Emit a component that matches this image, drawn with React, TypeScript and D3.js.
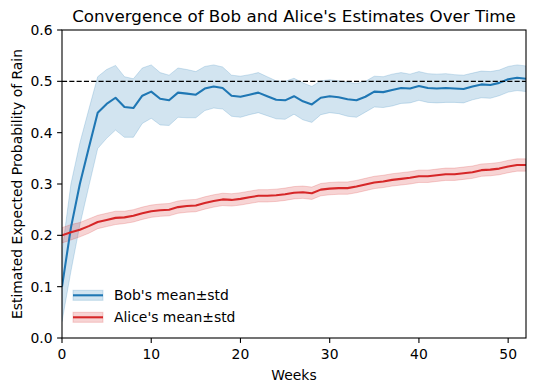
import React from "react";
import * as d3 from "d3";

const weeks = d3.range(0, 53);

const bobMean = [
  0.100, 0.215, 0.300, 0.370, 0.439, 0.456, 0.468, 0.450, 0.448, 0.472,
  0.480, 0.466, 0.463, 0.478, 0.476, 0.474, 0.486, 0.490, 0.487, 0.472,
  0.470, 0.474, 0.478, 0.471, 0.464, 0.463, 0.471, 0.461, 0.455, 0.468,
  0.471, 0.469, 0.465, 0.463, 0.470, 0.480, 0.479, 0.483, 0.487, 0.486,
  0.491, 0.487, 0.486, 0.487, 0.486, 0.485, 0.490, 0.494, 0.493, 0.497,
  0.504, 0.507, 0.505,
];

const bobStd = [
  0.068, 0.085, 0.080, 0.075, 0.070, 0.067, 0.063, 0.059, 0.057, 0.054,
  0.052, 0.051, 0.049, 0.048, 0.047, 0.045, 0.043, 0.042, 0.041, 0.040,
  0.040, 0.039, 0.039, 0.038, 0.037, 0.037, 0.035, 0.036, 0.035, 0.033,
  0.032, 0.032, 0.033, 0.033, 0.030, 0.030, 0.030, 0.031, 0.030, 0.028,
  0.028, 0.028, 0.028, 0.028, 0.027, 0.027, 0.026, 0.026, 0.026, 0.025,
  0.025, 0.025, 0.025,
];

const aliceMean = [
  0.200, 0.206, 0.211, 0.218, 0.226, 0.230, 0.234, 0.235, 0.238, 0.243,
  0.247, 0.249, 0.250, 0.255, 0.257, 0.258, 0.263, 0.267, 0.270, 0.269,
  0.271, 0.274, 0.277, 0.277, 0.278, 0.280, 0.283, 0.284, 0.282, 0.289,
  0.291, 0.292, 0.292, 0.295, 0.299, 0.303, 0.305, 0.308, 0.310, 0.312,
  0.315, 0.315, 0.317, 0.319, 0.319, 0.321, 0.323, 0.327, 0.328, 0.330,
  0.334, 0.337, 0.337,
];

const aliceStd = [
  0.015, 0.015, 0.014, 0.014, 0.013, 0.013, 0.013, 0.012, 0.012, 0.012,
  0.012, 0.012, 0.012, 0.012, 0.012, 0.012, 0.012, 0.012, 0.012, 0.012,
  0.012, 0.012, 0.012, 0.012, 0.012, 0.012, 0.012, 0.012, 0.012, 0.012,
  0.012, 0.012, 0.012, 0.012, 0.012, 0.012, 0.012, 0.012, 0.012, 0.012,
  0.012, 0.012, 0.012, 0.012, 0.012, 0.012, 0.012, 0.012, 0.012, 0.012,
  0.012, 0.012, 0.012,
];

const xTicks = [0, 10, 20, 30, 40, 50];
const yTicks = [0.0, 0.1, 0.2, 0.3, 0.4, 0.5, 0.6];
const targetValue = 0.5;

const series = [
  { name: "Bob's mean±std", mean: bobMean, std: bobStd, color: "#1f77b4" },
  { name: "Alice's mean±std", mean: aliceMean, std: aliceStd, color: "#d62728" },
];

const W = 536;
const H = 391;
const M = { left: 62, right: 10, top: 30, bottom: 53 };
const FONT = "DejaVu Sans, sans-serif";
const FS = 13.9;

export default function App() {
  const x = d3.scaleLinear().domain([0, 52]).range([M.left, W - M.right]);
  const y = d3.scaleLinear().domain([0, 0.6]).range([H - M.bottom, M.top]);
  const x0 = M.left, x1 = W - M.right, y0 = H - M.bottom, y1 = M.top;

  const line = d3
    .line<number>()
    .x((_, i) => x(weeks[i]))
    .y((d) => y(d));

  const makeArea = (mean: number[], std: number[]) =>
    d3
      .area<number>()
      .x((_, i) => x(weeks[i]))
      .y0((d, i) => y(d - std[i]))
      .y1((d, i) => y(d + std[i]))(mean) as string;

  return (
    <svg
      width={W}
      height={H}
      style={{ position: "absolute", left: 0, top: 0, background: "#fff" }}
      fontFamily={FONT}
    >
      <defs>
        <clipPath id="plotclip">
          <rect x={x0} y={y1} width={x1 - x0} height={y0 - y1} />
        </clipPath>
      </defs>
      <rect x={0} y={0} width={W} height={H} fill="#fff" />
      <g clipPath="url(#plotclip)">
        {series.map((s) => (
          <path key={s.name + "a"} d={makeArea(s.mean, s.std)} fill={s.color} fillOpacity={0.2} stroke={s.color} strokeOpacity={0.2} strokeWidth={1} />
        ))}
        {series.map((s) => (
          <path key={s.name + "l"} d={line(s.mean) as string} fill="none" stroke={s.color} strokeWidth={2.08} strokeLinejoin="round" />
        ))}
        <line x1={x0} x2={x1} y1={y(targetValue)} y2={y(targetValue)} stroke="#000" strokeWidth={1.39} strokeDasharray="5.1,2.2" />
      </g>
      <rect x={x0} y={y1} width={x1 - x0} height={y0 - y1} fill="none" stroke="#000" strokeWidth={1.1} />
      {xTicks.map((t) => (
        <g key={"x" + t}>
          <line x1={x(t)} x2={x(t)} y1={y0} y2={y0 + 4.9} stroke="#000" strokeWidth={1.1} />
          <text x={x(t)} y={y0 + 21} fontSize={FS} textAnchor="middle" fill="#000">{t}</text>
        </g>
      ))}
      {yTicks.map((t) => (
        <g key={"y" + t}>
          <line x1={x0 - 4.9} x2={x0} y1={y(t)} y2={y(t)} stroke="#000" strokeWidth={1.1} />
          <text x={x0 - 9.5} y={y(t) + 5} fontSize={FS} textAnchor="end" fill="#000">{t.toFixed(1)}</text>
        </g>
      ))}
      <text x={(x0 + x1) / 2} y={380} fontSize={FS} textAnchor="middle" fill="#000">Weeks</text>
      <text transform={`translate(22,${(y0 + y1) / 2}) rotate(-90)`} fontSize={FS} textAnchor="middle" fill="#000">
        Estimated Expected Probability of Rain
      </text>
      <text x={(x0 + x1) / 2} y={21.7} fontSize={16.7} textAnchor="middle" fill="#000">
        Convergence of Bob and Alice's Estimates Over Time
      </text>
      {series.map((s, i) => {
        const cy = 295.3 + i * 22;
        return (
          <g key={"lg" + i}>
            <rect x={73} y={cy - 5} width={30} height={10} fill={s.color} fillOpacity={0.2} stroke={s.color} strokeOpacity={0.2} />
            <line x1={73} x2={103} y1={cy} y2={cy} stroke={s.color} strokeWidth={2.08} />
            <text x={114} y={cy + 5} fontSize={FS} fill="#000">{s.name}</text>
          </g>
        );
      })}
    </svg>
  );
}
